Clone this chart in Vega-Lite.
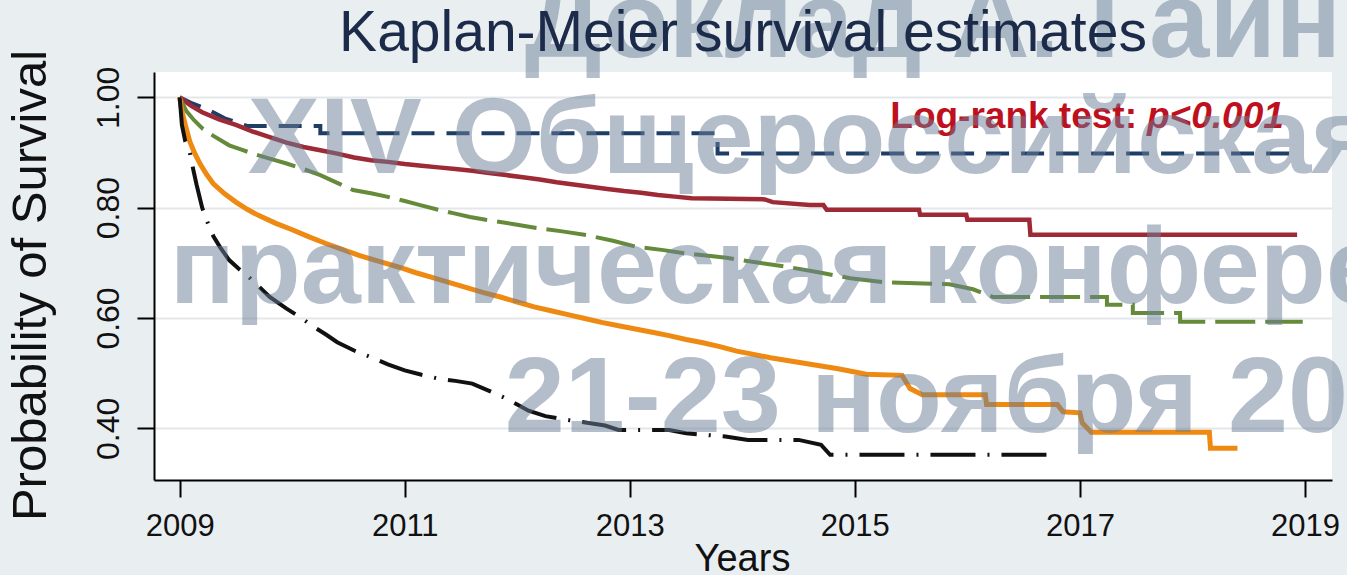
{
  "$schema": "https://vega.github.io/schema/vega-lite/v6.json",
  "width": 1178,
  "height": 408,
  "autosize": {"type": "none"},
  "padding": {"left": 154, "top": 72, "right": 15, "bottom": 95},
  "background": "#e9eef1",
  "view": {"fill": "white", "stroke": null},
  "config": {"font": "Liberation Sans"},
  "title": {
    "text": "Kaplan-Meier survival estimates",
    "fontSize": 57,
    "fontWeight": "normal",
    "color": "#1c2b4a",
    "font": "Liberation Sans",
    "anchor": "middle",
    "frame": "group",
    "baseline": "alphabetic",
    "offset": 0,
    "dy": 137
  },
  "datasets": {
    "km": [
      {"group": "G1", "year": 2009.0, "surv": 1.0},
      {"group": "G1", "year": 2009.1, "surv": 0.99},
      {"group": "G1", "year": 2009.25, "surv": 0.978},
      {"group": "G1", "year": 2009.4, "surv": 0.962},
      {"group": "G1", "year": 2009.6, "surv": 0.948},
      {"group": "G1", "year": 2010.25, "surv": 0.948},
      {"group": "G1", "year": 2010.25, "surv": 0.935},
      {"group": "G1", "year": 2013.78, "surv": 0.935},
      {"group": "G1", "year": 2013.78, "surv": 0.898},
      {"group": "G1", "year": 2018.88, "surv": 0.898},

      {"group": "G2", "year": 2009.0, "surv": 1.0},
      {"group": "G2", "year": 2009.1, "surv": 0.985},
      {"group": "G2", "year": 2009.2, "surv": 0.973},
      {"group": "G2", "year": 2009.35, "surv": 0.96},
      {"group": "G2", "year": 2009.5, "surv": 0.95},
      {"group": "G2", "year": 2009.65, "surv": 0.938},
      {"group": "G2", "year": 2009.8, "surv": 0.928},
      {"group": "G2", "year": 2009.95, "surv": 0.918},
      {"group": "G2", "year": 2010.1, "surv": 0.91},
      {"group": "G2", "year": 2010.25, "surv": 0.904},
      {"group": "G2", "year": 2010.4, "surv": 0.898},
      {"group": "G2", "year": 2010.55, "surv": 0.891},
      {"group": "G2", "year": 2010.7, "surv": 0.886},
      {"group": "G2", "year": 2010.85, "surv": 0.883},
      {"group": "G2", "year": 2011.0, "surv": 0.879},
      {"group": "G2", "year": 2011.15, "surv": 0.876},
      {"group": "G2", "year": 2011.3, "surv": 0.873},
      {"group": "G2", "year": 2011.45, "surv": 0.87},
      {"group": "G2", "year": 2011.6, "surv": 0.867},
      {"group": "G2", "year": 2011.75, "surv": 0.863},
      {"group": "G2", "year": 2011.9, "surv": 0.859},
      {"group": "G2", "year": 2012.05, "surv": 0.855},
      {"group": "G2", "year": 2012.2, "surv": 0.851},
      {"group": "G2", "year": 2012.35, "surv": 0.846},
      {"group": "G2", "year": 2012.5, "surv": 0.842},
      {"group": "G2", "year": 2012.65, "surv": 0.838},
      {"group": "G2", "year": 2012.8, "surv": 0.834},
      {"group": "G2", "year": 2012.95, "surv": 0.83},
      {"group": "G2", "year": 2013.1, "surv": 0.827},
      {"group": "G2", "year": 2013.25, "surv": 0.823},
      {"group": "G2", "year": 2013.4, "surv": 0.82},
      {"group": "G2", "year": 2013.55, "surv": 0.817},
      {"group": "G2", "year": 2014.2, "surv": 0.815},
      {"group": "G2", "year": 2014.27, "surv": 0.81},
      {"group": "G2", "year": 2014.6, "surv": 0.805},
      {"group": "G2", "year": 2014.72, "surv": 0.805},
      {"group": "G2", "year": 2014.75, "surv": 0.796},
      {"group": "G2", "year": 2015.57, "surv": 0.796},
      {"group": "G2", "year": 2015.58, "surv": 0.787},
      {"group": "G2", "year": 2015.99, "surv": 0.787},
      {"group": "G2", "year": 2016.0, "surv": 0.778},
      {"group": "G2", "year": 2016.55, "surv": 0.778},
      {"group": "G2", "year": 2016.56, "surv": 0.751},
      {"group": "G2", "year": 2018.93, "surv": 0.751},

      {"group": "G3", "year": 2009.0, "surv": 1.0},
      {"group": "G3", "year": 2009.06, "surv": 0.975},
      {"group": "G3", "year": 2009.13, "surv": 0.958},
      {"group": "G3", "year": 2009.2, "surv": 0.944},
      {"group": "G3", "year": 2009.3, "surv": 0.93},
      {"group": "G3", "year": 2009.44, "surv": 0.913},
      {"group": "G3", "year": 2009.55, "surv": 0.905},
      {"group": "G3", "year": 2009.65, "surv": 0.898},
      {"group": "G3", "year": 2009.8, "surv": 0.889},
      {"group": "G3", "year": 2009.95, "surv": 0.88},
      {"group": "G3", "year": 2010.1, "surv": 0.87},
      {"group": "G3", "year": 2010.25, "surv": 0.859},
      {"group": "G3", "year": 2010.4, "surv": 0.845},
      {"group": "G3", "year": 2010.54, "surv": 0.832},
      {"group": "G3", "year": 2010.7, "surv": 0.826},
      {"group": "G3", "year": 2010.84, "surv": 0.82},
      {"group": "G3", "year": 2011.0, "surv": 0.812},
      {"group": "G3", "year": 2011.13, "surv": 0.805},
      {"group": "G3", "year": 2011.28, "surv": 0.797},
      {"group": "G3", "year": 2011.43, "surv": 0.79},
      {"group": "G3", "year": 2011.58, "surv": 0.783},
      {"group": "G3", "year": 2011.72, "surv": 0.778},
      {"group": "G3", "year": 2011.85, "surv": 0.774},
      {"group": "G3", "year": 2012.0, "surv": 0.769},
      {"group": "G3", "year": 2012.17, "surv": 0.763},
      {"group": "G3", "year": 2012.4, "surv": 0.757},
      {"group": "G3", "year": 2012.62, "surv": 0.75},
      {"group": "G3", "year": 2012.85, "surv": 0.74},
      {"group": "G3", "year": 2013.06, "surv": 0.729},
      {"group": "G3", "year": 2013.3, "surv": 0.723},
      {"group": "G3", "year": 2013.5, "surv": 0.717},
      {"group": "G3", "year": 2013.86, "surv": 0.709},
      {"group": "G3", "year": 2014.15, "surv": 0.7},
      {"group": "G3", "year": 2014.42, "surv": 0.692},
      {"group": "G3", "year": 2014.7, "surv": 0.682},
      {"group": "G3", "year": 2014.96, "surv": 0.672},
      {"group": "G3", "year": 2015.25, "surv": 0.665},
      {"group": "G3", "year": 2015.84, "surv": 0.661},
      {"group": "G3", "year": 2016.05, "surv": 0.652},
      {"group": "G3", "year": 2016.23, "surv": 0.638},
      {"group": "G3", "year": 2017.24, "surv": 0.638},
      {"group": "G3", "year": 2017.24, "surv": 0.624},
      {"group": "G3", "year": 2017.47, "surv": 0.624},
      {"group": "G3", "year": 2017.47, "surv": 0.609},
      {"group": "G3", "year": 2017.89, "surv": 0.609},
      {"group": "G3", "year": 2017.89, "surv": 0.593},
      {"group": "G3", "year": 2018.98, "surv": 0.593},

      {"group": "G4", "year": 2009.0, "surv": 1.0},
      {"group": "G4", "year": 2009.02, "surv": 0.975},
      {"group": "G4", "year": 2009.05, "surv": 0.95},
      {"group": "G4", "year": 2009.09, "surv": 0.92},
      {"group": "G4", "year": 2009.13, "surv": 0.9},
      {"group": "G4", "year": 2009.18, "surv": 0.88},
      {"group": "G4", "year": 2009.24, "surv": 0.86},
      {"group": "G4", "year": 2009.3, "surv": 0.843},
      {"group": "G4", "year": 2009.4, "surv": 0.825},
      {"group": "G4", "year": 2009.5, "surv": 0.81},
      {"group": "G4", "year": 2009.6, "surv": 0.797},
      {"group": "G4", "year": 2009.7, "surv": 0.786},
      {"group": "G4", "year": 2009.85, "surv": 0.772},
      {"group": "G4", "year": 2010.0, "surv": 0.76},
      {"group": "G4", "year": 2010.15, "surv": 0.747},
      {"group": "G4", "year": 2010.3, "surv": 0.735},
      {"group": "G4", "year": 2010.45, "surv": 0.724},
      {"group": "G4", "year": 2010.6, "surv": 0.713},
      {"group": "G4", "year": 2010.78, "surv": 0.702},
      {"group": "G4", "year": 2010.95, "surv": 0.692},
      {"group": "G4", "year": 2011.1, "surv": 0.682},
      {"group": "G4", "year": 2011.25, "surv": 0.673},
      {"group": "G4", "year": 2011.4, "surv": 0.664},
      {"group": "G4", "year": 2011.55, "surv": 0.655},
      {"group": "G4", "year": 2011.7, "surv": 0.646},
      {"group": "G4", "year": 2011.85, "surv": 0.638},
      {"group": "G4", "year": 2012.0, "surv": 0.629},
      {"group": "G4", "year": 2012.15, "surv": 0.62},
      {"group": "G4", "year": 2012.3, "surv": 0.613},
      {"group": "G4", "year": 2012.45, "surv": 0.606},
      {"group": "G4", "year": 2012.6, "surv": 0.599},
      {"group": "G4", "year": 2012.75, "surv": 0.592},
      {"group": "G4", "year": 2012.9, "surv": 0.586},
      {"group": "G4", "year": 2013.05, "surv": 0.58},
      {"group": "G4", "year": 2013.2, "surv": 0.574},
      {"group": "G4", "year": 2013.35, "surv": 0.568},
      {"group": "G4", "year": 2013.5, "surv": 0.561},
      {"group": "G4", "year": 2013.65, "surv": 0.555},
      {"group": "G4", "year": 2013.8, "surv": 0.548},
      {"group": "G4", "year": 2013.95, "surv": 0.54},
      {"group": "G4", "year": 2014.1, "surv": 0.534},
      {"group": "G4", "year": 2014.25, "surv": 0.528},
      {"group": "G4", "year": 2014.4, "surv": 0.523},
      {"group": "G4", "year": 2014.55, "surv": 0.518},
      {"group": "G4", "year": 2014.7, "surv": 0.513},
      {"group": "G4", "year": 2014.85, "surv": 0.508},
      {"group": "G4", "year": 2015.0, "surv": 0.502},
      {"group": "G4", "year": 2015.1, "surv": 0.498},
      {"group": "G4", "year": 2015.42, "surv": 0.496},
      {"group": "G4", "year": 2015.49, "surv": 0.472},
      {"group": "G4", "year": 2015.6, "surv": 0.461},
      {"group": "G4", "year": 2016.16, "surv": 0.461},
      {"group": "G4", "year": 2016.17, "surv": 0.443},
      {"group": "G4", "year": 2016.8, "surv": 0.443},
      {"group": "G4", "year": 2016.85, "surv": 0.43},
      {"group": "G4", "year": 2017.0, "surv": 0.428},
      {"group": "G4", "year": 2017.02, "surv": 0.41},
      {"group": "G4", "year": 2017.1, "surv": 0.393},
      {"group": "G4", "year": 2018.15, "surv": 0.393},
      {"group": "G4", "year": 2018.16, "surv": 0.364},
      {"group": "G4", "year": 2018.4, "surv": 0.364},

      {"group": "G5", "year": 2009.0, "surv": 1.0},
      {"group": "G5", "year": 2009.02, "surv": 0.95},
      {"group": "G5", "year": 2009.05, "surv": 0.92},
      {"group": "G5", "year": 2009.09, "surv": 0.9},
      {"group": "G5", "year": 2009.12, "surv": 0.87},
      {"group": "G5", "year": 2009.15, "surv": 0.842},
      {"group": "G5", "year": 2009.2, "surv": 0.8},
      {"group": "G5", "year": 2009.25, "surv": 0.772},
      {"group": "G5", "year": 2009.3, "surv": 0.748},
      {"group": "G5", "year": 2009.36, "surv": 0.728},
      {"group": "G5", "year": 2009.44, "surv": 0.705},
      {"group": "G5", "year": 2009.52, "surv": 0.69},
      {"group": "G5", "year": 2009.6, "surv": 0.677},
      {"group": "G5", "year": 2009.7, "surv": 0.658},
      {"group": "G5", "year": 2009.8, "surv": 0.638},
      {"group": "G5", "year": 2009.95, "surv": 0.617},
      {"group": "G5", "year": 2010.08, "surv": 0.6},
      {"group": "G5", "year": 2010.2, "surv": 0.583},
      {"group": "G5", "year": 2010.3, "surv": 0.57},
      {"group": "G5", "year": 2010.4, "surv": 0.556},
      {"group": "G5", "year": 2010.55, "surv": 0.541},
      {"group": "G5", "year": 2010.7, "surv": 0.529},
      {"group": "G5", "year": 2010.85, "surv": 0.516},
      {"group": "G5", "year": 2011.0, "surv": 0.505},
      {"group": "G5", "year": 2011.15, "surv": 0.497},
      {"group": "G5", "year": 2011.3, "surv": 0.49},
      {"group": "G5", "year": 2011.45, "surv": 0.486},
      {"group": "G5", "year": 2011.6, "surv": 0.481},
      {"group": "G5", "year": 2011.75, "surv": 0.468},
      {"group": "G5", "year": 2011.87, "surv": 0.457},
      {"group": "G5", "year": 2012.0, "surv": 0.443},
      {"group": "G5", "year": 2012.1, "surv": 0.432},
      {"group": "G5", "year": 2012.25, "surv": 0.422},
      {"group": "G5", "year": 2012.45, "surv": 0.415},
      {"group": "G5", "year": 2012.62, "surv": 0.41},
      {"group": "G5", "year": 2012.78, "surv": 0.405},
      {"group": "G5", "year": 2012.9, "surv": 0.397},
      {"group": "G5", "year": 2013.35, "surv": 0.397},
      {"group": "G5", "year": 2013.5, "surv": 0.391},
      {"group": "G5", "year": 2013.85, "surv": 0.385},
      {"group": "G5", "year": 2014.05, "surv": 0.379},
      {"group": "G5", "year": 2014.5, "surv": 0.379},
      {"group": "G5", "year": 2014.7, "surv": 0.37},
      {"group": "G5", "year": 2014.78, "surv": 0.352},
      {"group": "G5", "year": 2016.76, "surv": 0.352}
    ],
    "ann": [
      {"year": 2017.596, "surv": 0.9444, "label": "Log-rank test:", "pval": "p<0.001"}
    ],
    "wm": [
      {"year": 2012.066, "surv": 1.073, "label": "Доклад А. Гайн"},
      {"year": 2009.604, "surv": 0.8628, "label": "XIV Общероссийская"},
      {"year": 2008.911, "surv": 0.6271, "label": "практическая конференция"},
      {"year": 2011.888, "surv": 0.3932, "label": "21-23 ноября 2019"}
    ]
  },
  "encoding": {
    "x": {
      "field": "year",
      "type": "quantitative",
      "scale": {"domain": [2008.772, 2019.24], "nice": false, "zero": false},
      "axis": {
        "values": [2009, 2011, 2013, 2015, 2017, 2019],
        "format": "d",
        "title": "Years",
        "grid": false,
        "domainColor": "#000000",
        "domainWidth": 2,
        "tickColor": "#000000",
        "tickWidth": 2,
        "tickSize": 17,
        "labelFontSize": 31,
        "labelColor": "#111111",
        "labelPadding": 14,
        "labelFlush": false,
        "labelOverlap": false,
        "titleFontSize": 38,
        "titleFontWeight": "normal",
        "titleColor": "#111111",
        "titleX": 588,
        "titleY": 90,
        "titleAlign": "center",
        "titleBaseline": "alphabetic"
      }
    },
    "y": {
      "field": "surv",
      "type": "quantitative",
      "scale": {"domain": [0.3063, 1.0459], "nice": false, "zero": false},
      "axis": {
        "values": [0.4, 0.6, 0.8, 1.0],
        "format": ".2f",
        "title": "Probability of Survival",
        "grid": true,
        "gridColor": "#e3e7ea",
        "gridWidth": 2,
        "domainColor": "#000000",
        "domainWidth": 2,
        "tickColor": "#000000",
        "tickWidth": 2,
        "tickSize": 17,
        "labelAngle": 270,
        "labelAlign": "center",
        "labelBaseline": "bottom",
        "labelFontSize": 32,
        "labelPadding": 12,
        "labelColor": "#111111",
        "labelFlush": false,
        "labelOverlap": false,
        "titleFontSize": 49,
        "titleFontWeight": "normal",
        "titleColor": "#111111",
        "titleAngle": 270,
        "titleX": -109,
        "titleY": 213,
        "titleAlign": "center",
        "titleBaseline": "alphabetic"
      }
    }
  },
  "layer": [
    {
      "data": {"name": "km"},
      "transform": [{"filter": "datum.group === 'G1'"}],
      "mark": {"type": "line", "color": "#1f3e66", "strokeWidth": 4, "strokeDash": [23, 12]}
    },
    {
      "data": {"name": "km"},
      "transform": [{"filter": "datum.group === 'G2'"}],
      "mark": {"type": "line", "color": "#9e2a36", "strokeWidth": 4.5}
    },
    {
      "data": {"name": "km"},
      "transform": [{"filter": "datum.group === 'G3'"}],
      "mark": {"type": "line", "color": "#658a3a", "strokeWidth": 4, "strokeDash": [40, 10]}
    },
    {
      "data": {"name": "km"},
      "transform": [{"filter": "datum.group === 'G4'"}],
      "mark": {"type": "line", "color": "#ee8a12", "strokeWidth": 5}
    },
    {
      "data": {"name": "km"},
      "transform": [{"filter": "datum.group === 'G5'"}],
      "mark": {"type": "line", "color": "#111111", "strokeWidth": 4, "strokeDash": [45, 12, 2, 12]}
    },
    {
      "data": {"name": "ann"},
      "mark": {"type": "text", "align": "right", "baseline": "alphabetic", "dx": -10, "fontSize": 37, "fontWeight": "bold", "color": "#bf1020", "font": "Liberation Sans"},
      "encoding": {"text": {"field": "label"}}
    },
    {
      "data": {"name": "ann"},
      "mark": {"type": "text", "align": "left", "baseline": "alphabetic", "fontSize": 37, "fontWeight": "bold", "fontStyle": "italic", "color": "#bf1020", "font": "Liberation Sans"},
      "encoding": {"text": {"field": "pval"}}
    },
    {
      "data": {"name": "wm"},
      "mark": {"type": "text", "align": "left", "baseline": "alphabetic", "fontSize": 108, "fontWeight": "bold", "color": "#6b7f99", "opacity": 0.5, "font": "Liberation Sans"},
      "encoding": {"text": {"field": "label"}}
    }
  ]
}
